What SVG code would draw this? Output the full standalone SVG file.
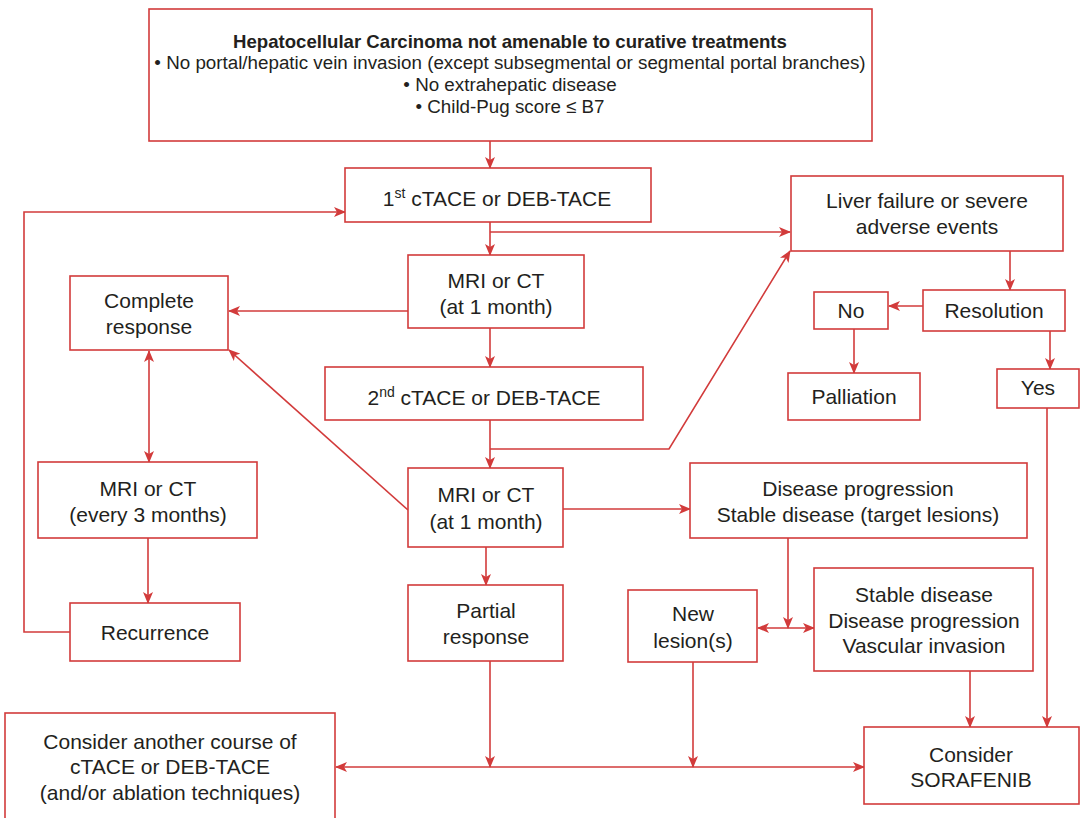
<svg xmlns="http://www.w3.org/2000/svg" width="1080" height="818" viewBox="0 0 1080 818">
  <style>
    .box { fill: #ffffff; stroke: #d23b3b; stroke-width: 1.6; }
    .lbl { font-family: "Liberation Sans", Arial, sans-serif; font-size: 21px; fill: #231f20; text-anchor: middle; }
    .hdr { font-family: "Liberation Sans", Arial, sans-serif; font-size: 18.8px; fill: #231f20; text-anchor: middle; }
    .bold { font-weight: bold; font-size: 18.6px; }
    .wire { fill: none; stroke: #d23b3b; stroke-width: 1.6; }
  </style>
  <defs>
    <marker id="head" viewBox="0 0 12 10" refX="11" refY="5" markerWidth="12" markerHeight="10" markerUnits="userSpaceOnUse" orient="auto-start-reverse">
      <path d="M0,0 L12,5 L0,10 L3,5 z" fill="#d23b3b"/>
    </marker>
  </defs>
  <rect width="1080" height="818" fill="#ffffff"/>

  <!-- connectors -->
  <g id="connectors">
    <line class="wire" x1="490" y1="141" x2="490" y2="168" marker-end="url(#head)"/>
    <line class="wire" x1="490" y1="222" x2="490" y2="255" marker-end="url(#head)"/>
    <polyline class="wire" points="490,232 790,232" marker-end="url(#head)"/>
    <line class="wire" x1="408" y1="311" x2="229" y2="311" marker-end="url(#head)"/>
    <line class="wire" x1="490" y1="328" x2="490" y2="367" marker-end="url(#head)"/>
    <line class="wire" x1="490" y1="420" x2="490" y2="468" marker-end="url(#head)"/>
    <polyline class="wire" points="490,449 669,449 790,251" marker-end="url(#head)"/>
    <line class="wire" x1="408" y1="510" x2="229" y2="350" marker-end="url(#head)"/>
    <line class="wire" x1="563" y1="509" x2="690" y2="509" marker-end="url(#head)"/>
    <line class="wire" x1="149" y1="351" x2="149" y2="462" marker-start="url(#head)" marker-end="url(#head)"/>
    <line class="wire" x1="148" y1="538" x2="148" y2="603" marker-end="url(#head)"/>
    <polyline class="wire" points="70,632 24,632 24,212 345,212" marker-end="url(#head)"/>
    <line class="wire" x1="486" y1="547" x2="486" y2="585" marker-end="url(#head)"/>
    <line class="wire" x1="490" y1="661" x2="490" y2="767" marker-end="url(#head)"/>
    <line class="wire" x1="693" y1="662" x2="693" y2="767" marker-end="url(#head)"/>
    <line class="wire" x1="788" y1="538" x2="788" y2="628" marker-end="url(#head)"/>
    <line class="wire" x1="758" y1="628" x2="814" y2="628" marker-start="url(#head)" marker-end="url(#head)"/>
    <line class="wire" x1="970" y1="671" x2="970" y2="727" marker-end="url(#head)"/>
    <line class="wire" x1="1047" y1="408" x2="1047" y2="727" marker-end="url(#head)"/>
    <line class="wire" x1="336" y1="767" x2="864" y2="767" marker-start="url(#head)" marker-end="url(#head)"/>
    <line class="wire" x1="1010" y1="251" x2="1010" y2="290" marker-end="url(#head)"/>
    <line class="wire" x1="923" y1="306" x2="889" y2="306" marker-end="url(#head)"/>
    <line class="wire" x1="854" y1="329" x2="854" y2="373" marker-end="url(#head)"/>
    <line class="wire" x1="1050" y1="331" x2="1050" y2="369" marker-end="url(#head)"/>
  </g>

  <g id="hcc">
    <rect class="box" x="149" y="9" width="723" height="132"/>
    <text class="hdr bold" x="510" y="48">Hepatocellular Carcinoma not amenable to curative treatments</text>
    <text class="hdr" x="510" y="69">• No portal/hepatic vein invasion (except subsegmental or segmental portal branches)</text>
    <text class="hdr" x="510" y="91">• No extrahepatic disease</text>
    <text class="hdr" x="510" y="113">• Child-Pug score ≤ B7</text>
  </g>

  <g id="tace1">
    <rect class="box" x="345" y="168" width="306" height="54"/>
    <text class="lbl" x="497" y="206">1<tspan font-size="14" dy="-8">st</tspan><tspan dy="8"> cTACE or DEB-TACE</tspan></text>
  </g>

  <g id="liver-failure">
    <rect class="box" x="791" y="176" width="272" height="75"/>
    <text class="lbl" x="927" y="208">Liver failure or severe</text>
    <text class="lbl" x="927" y="234">adverse events</text>
  </g>

  <g id="mri1">
    <rect class="box" x="408" y="255" width="176" height="73"/>
    <text class="lbl" x="496" y="288">MRI or CT</text>
    <text class="lbl" x="496" y="314">(at 1 month)</text>
  </g>

  <g id="complete">
    <rect class="box" x="70" y="276" width="158" height="74"/>
    <text class="lbl" x="149" y="308">Complete</text>
    <text class="lbl" x="149" y="334">response</text>
  </g>

  <g id="resolution">
    <rect class="box" x="923" y="290" width="142" height="41"/>
    <text class="lbl" x="994" y="318">Resolution</text>
  </g>

  <g id="no">
    <rect class="box" x="814" y="292" width="74" height="37"/>
    <text class="lbl" x="851" y="318">No</text>
  </g>

  <g id="palliation">
    <rect class="box" x="788" y="373" width="132" height="47"/>
    <text class="lbl" x="854" y="404">Palliation</text>
  </g>

  <g id="yes">
    <rect class="box" x="997" y="369" width="82" height="39"/>
    <text class="lbl" x="1038" y="395">Yes</text>
  </g>

  <g id="tace2">
    <rect class="box" x="325" y="367" width="318" height="53"/>
    <text class="lbl" x="484" y="405">2<tspan font-size="14" dy="-8">nd</tspan><tspan dy="8"> cTACE or DEB-TACE</tspan></text>
  </g>

  <g id="mri-3months">
    <rect class="box" x="38" y="462" width="219" height="76"/>
    <text class="lbl" x="148" y="496">MRI or CT</text>
    <text class="lbl" x="148" y="522">(every 3 months)</text>
  </g>

  <g id="mri2">
    <rect class="box" x="408" y="468" width="155" height="79"/>
    <text class="lbl" x="486" y="502">MRI or CT</text>
    <text class="lbl" x="486" y="529">(at 1 month)</text>
  </g>

  <g id="progression">
    <rect class="box" x="690" y="463" width="337" height="75"/>
    <text class="lbl" x="858" y="496">Disease progression</text>
    <text class="lbl" x="858" y="522">Stable disease (target lesions)</text>
  </g>

  <g id="recurrence">
    <rect class="box" x="70" y="603" width="170" height="58"/>
    <text class="lbl" x="155" y="640">Recurrence</text>
  </g>

  <g id="partial">
    <rect class="box" x="408" y="585" width="155" height="76"/>
    <text class="lbl" x="486" y="618">Partial</text>
    <text class="lbl" x="486" y="644">response</text>
  </g>

  <g id="new-lesions">
    <rect class="box" x="628" y="590" width="129" height="72"/>
    <text class="lbl" x="693" y="621">New</text>
    <text class="lbl" x="693" y="648">lesion(s)</text>
  </g>

  <g id="stable">
    <rect class="box" x="814" y="568" width="219" height="103"/>
    <text class="lbl" x="924" y="602">Stable disease</text>
    <text class="lbl" x="924" y="628">Disease progression</text>
    <text class="lbl" x="924" y="653">Vascular invasion</text>
  </g>

  <g id="another-course">
    <rect class="box" x="5" y="713" width="330" height="110"/>
    <text class="lbl" x="170" y="749">Consider another course of</text>
    <text class="lbl" x="170" y="774">cTACE or DEB-TACE</text>
    <text class="lbl" x="170" y="800">(and/or ablation techniques)</text>
  </g>

  <g id="sorafenib">
    <rect class="box" x="864" y="727" width="215" height="77"/>
    <text class="lbl" x="971" y="762">Consider</text>
    <text class="lbl" x="971" y="787">SORAFENIB</text>
  </g>
</svg>
